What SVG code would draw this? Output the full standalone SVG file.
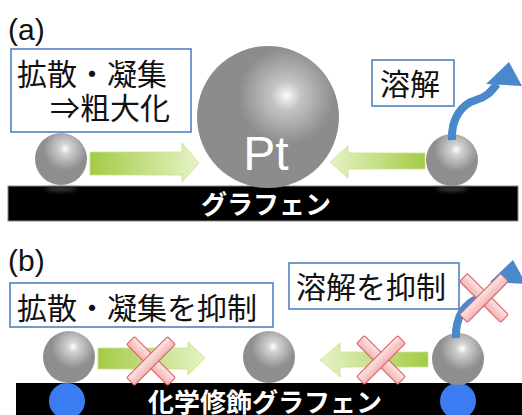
<svg xmlns="http://www.w3.org/2000/svg" width="522" height="415" viewBox="0 0 522 415">
  <defs>
    <style>
      .label { font-family: "Noto Sans CJK JP", "Liberation Sans", sans-serif; font-size: 30px; fill: #111; }
      .tag { font-family: "Liberation Sans", "DejaVu Sans", sans-serif; font-size: 30px; fill: #111; }
      .bar-text { font-family: "Noto Sans CJK JP", sans-serif; font-size: 26px; font-weight: bold; fill: #fff; }
      .box { fill: #fff; stroke: #4f81bd; stroke-width: 1.6; }
      .bar { fill: #000; stroke: #8a8a8a; stroke-width: 1; }
      .dot { fill: #3b7cf2; }
      .blue { fill: none; stroke: #4a88cc; stroke-width: 8; }
    </style>
    <radialGradient id="ball" cx="0.58" cy="0.3" fx="0.58" fy="0.3" r="0.42">
      <stop offset="0" stop-color="#ffffff"/>
      <stop offset="0.25" stop-color="#d2d2d2"/>
      <stop offset="1" stop-color="#8e8e8e"/>
    </radialGradient>
    <radialGradient id="bigBall" cx="0.63" cy="0.35" fx="0.63" fy="0.35" r="0.34">
      <stop offset="0" stop-color="#fafafa"/>
      <stop offset="0.3" stop-color="#c4c4c4"/>
      <stop offset="1" stop-color="#8c8c8c"/>
    </radialGradient>
    <linearGradient id="greenR" x1="0" y1="0" x2="1" y2="0">
      <stop offset="0" stop-color="#a3cb45"/>
      <stop offset="1" stop-color="#e6f3c6"/>
    </linearGradient>
    <linearGradient id="greenL" x1="1" y1="0" x2="0" y2="0">
      <stop offset="0" stop-color="#a3cb45"/>
      <stop offset="1" stop-color="#e6f3c6"/>
    </linearGradient>
    <linearGradient id="crossFill" x1="0" y1="0" x2="0" y2="1">
      <stop offset="0" stop-color="#fde6e6"/>
      <stop offset="1" stop-color="#f3b3b3"/>
    </linearGradient>
    <filter id="soft" x="-50%" y="-200%" width="200%" height="500%">
      <feGaussianBlur stdDeviation="2"/>
    </filter>
    <!-- pink "X" drawn over a blocked path -->
    <g id="cross" fill="url(#crossFill)" stroke="#d9686a" stroke-width="1.2">
      <rect x="-29" y="-5.5" width="58" height="11" rx="1.5" transform="rotate(45)"/>
      <rect x="-29" y="-5.5" width="58" height="11" rx="1.5" transform="rotate(-45)"/>
    </g>
    <path id="riseArrow" d="M452,140 C451,118 462,104 476,100 C486,97 490,93 497,84"/>
  </defs>

  <rect width="522" height="415" fill="#fff"/>

  <!-- panel (a): plain graphene -->
  <text class="tag" x="8" y="40">(a)</text>

  <g id="substrate-a">
    <rect class="bar" x="8" y="186" width="510" height="35"/>
    <ellipse cx="61" cy="189" rx="16" ry="2" fill="#666" opacity="0.7" filter="url(#soft)"/>
    <ellipse cx="452" cy="189" rx="16" ry="2" fill="#666" opacity="0.7" filter="url(#soft)"/>
    <text class="bar-text" x="266" y="214" text-anchor="middle">グラフェン</text>
  </g>

  <g id="note-coarsening">
    <rect class="box" x="11" y="49" width="180" height="83"/>
    <text class="label" x="17" y="85">拡散・凝集</text>
    <text class="label" x="50" y="119">⇒粗大化</text>
  </g>

  <g id="note-dissolve">
    <rect class="box" x="372" y="60" width="82" height="46"/>
    <text class="label" x="380" y="95">溶解</text>
  </g>

  <g id="particle-a-left">
    <circle cx="61" cy="159" r="26" fill="url(#ball)"/>
  </g>

  <g id="particle-pt">
    <circle cx="268" cy="117" r="71" fill="url(#bigBall)"/>
    <text x="266" y="170" text-anchor="middle" font-family="Liberation Sans, Arial, sans-serif" font-size="48" fill="#fff">Pt</text>
  </g>

  <g id="particle-a-right">
    <circle cx="452" cy="160" r="26" fill="url(#ball)"/>
  </g>

  <!-- panel (b): chemically modified graphene -->
  <text class="tag" x="8" y="271">(b)</text>

  <g id="substrate-b">
    <rect x="16" y="383" width="510" height="40" fill="#000"/>
    <circle class="dot" cx="67" cy="401" r="18"/>
    <circle class="dot" cx="458" cy="401" r="18"/>
    <text class="bar-text" x="265" y="412" text-anchor="middle">化学修飾グラフェン</text>
  </g>

  <g id="note-suppress-diffusion">
    <rect class="box" x="10" y="283" width="263" height="44"/>
    <text class="label" x="17" y="319">拡散・凝集を抑制</text>
  </g>

  <g id="note-suppress-dissolve">
    <rect class="box" x="289" y="263" width="170" height="46"/>
    <text class="label" x="296" y="298">溶解を抑制</text>
  </g>

  <g id="particle-b-left">
    <circle cx="69" cy="357" r="26" fill="url(#ball)"/>
  </g>
  <g id="particle-b-middle">
    <circle cx="269" cy="357" r="26" fill="url(#ball)"/>
  </g>
  <g id="particle-b-right">
    <circle cx="458" cy="359" r="26" fill="url(#ball)"/>
  </g>

  <!-- connectors: migration and dissolution arrows -->
  <g id="connectors">
    <polygon points="90,152 182,152 182,143 199,163 182,182 182,175 90,175" fill="url(#greenR)" stroke="#c9e28f" stroke-width="0.8"/>
    <polygon points="425,153 348,153 348,146 330,162 348,178 348,169 425,169" fill="url(#greenL)" stroke="#c9e28f" stroke-width="0.8"/>
    <use href="#riseArrow" class="blue"/>
    <polygon points="486,84 509,62 522,86" fill="#4a88cc"/>

    <polygon points="98,348 188,348 188,342 205,358 188,375 188,369 98,369" fill="url(#greenR)" stroke="#c9e28f" stroke-width="0.8"/>
    <polygon points="428,352 340,352 340,343 320,360 340,377 340,367 428,367" fill="url(#greenL)" stroke="#c9e28f" stroke-width="0.8"/>
    <g transform="translate(4,198)">
      <use href="#riseArrow" class="blue"/>
      <polygon points="486,84 509,62 522,86" fill="#4a88cc"/>
    </g>
  </g>

  <!-- blocked-path marks -->
  <g id="blocks">
    <use href="#cross" transform="translate(151,361)"/>
    <use href="#cross" transform="translate(381,360)"/>
    <use href="#cross" transform="translate(484,298)"/>
  </g>
</svg>
